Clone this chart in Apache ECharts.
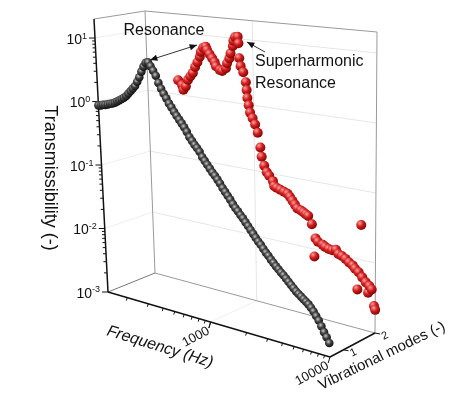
<!DOCTYPE html>
<html>
<head>
  <meta charset="UTF-8">
  <script src="https://cdn.jsdelivr.net/npm/echarts@6/dist/echarts.min.js"></script>
</head>
<style type="text/css">
  html,body {padding: 0; margin: 0; background: #fff}
  #chart {width: 474px; height: 404px}
</style>
<body>
<div id="chart"></div>
<script type="text/javascript">

// mode 1 (front plane)
var freq1 = [138,145,151,158,166,174,182,191,200,209,219,229,240,251,263,275,288,302,316,331,347,363,380,398,417,437,457,479,501,525,550,575,603,631,661,692,724,759,794,832,871,912,955,1000,
  1047,1096,1148,1202,1259,1318,1380,1445,1514,1585,1660,1738,1820,1905,1995,2089,2188,2291,2399,2512,2630,2754,2884,3020,3162,3311,3467,3631,3802,3981,4169,4365,4571,4786,5012,5248,5495,5754,6026,6310,6607,6918,7244,7586,7943,8318,8710,9120,9550,10000];
var trans1 = [0.871,0.891,0.933,0.955,1.0,1.047,1.084,1.148,1.23,1.318,1.413,1.514,1.66,1.862,2.089,2.344,2.63,3.162,3.80,4.79,5.89,6.92,7.24,6.46,5.62,4.79,3.80,3.16,2.69,2.34,2.0,1.78,1.55,1.38,1.23,1.10,0.977,0.851,0.724,0.646,0.575,0.525,0.468,0.398,
  0.355,0.316,0.282,0.251,0.229,0.204,0.182,0.158,0.141,0.126,0.112,0.0977,0.0871,0.0794,0.0708,0.0646,0.0575,0.0513,0.0457,0.0407,0.0363,0.0324,0.0295,0.0263,0.0234,0.0214,0.0191,0.0174,0.0158,0.0145,0.0132,0.0123,0.0112,0.0102,0.00933,0.00851,0.00776,0.00724,0.00676,0.00631,0.00589,0.0055,0.00501,0.00447,0.00389,0.00339,0.00282,0.00234,0.002,0.00166];

// mode 2 (back plane)
var freq2 = [245,263,269,282,295,309,324,339,355,372,380,398,417,427,447,468,490,501,537,562,603,617,646,661,692,700,724,759,768,776,794,832,871,881,891,912,933,977,1023,1072,1122,1148,1202,1259,1318,1413,1445,
  1514,1622,1738,1862,1950,2042,2138,2239,2399,2512,2630,2754,2951,3090,3162,3311,3631,3802,4074,4365,4677,4898,5248,5623,6026,6457,6761,7079,7244,7586,7762,8318,8710,8913,9333,9772,10000];
var trans2 = [1.70,1.45,1.23,1.41,1.82,2.09,2.40,3.02,3.63,4.47,5.37,6.31,6.61,5.89,5.13,4.47,3.89,3.39,3.02,2.95,3.31,3.98,4.79,5.75,7.59,9.12,10.5,10.7,8.51,5.01,3.80,3.09,2.19,1.66,1.26,0.977,0.759,0.631,0.513,0.389,0.234,0.170,0.126,0.102,0.0912,0.0776,0.0661,
  0.0631,0.0603,0.0575,0.055,0.0501,0.0447,0.0398,0.0355,0.0339,0.0324,0.0309,0.0295,0.0229,0.00776,0.0145,0.0132,0.0123,0.0117,0.0112,0.011,0.0115,0.0102,0.00977,0.00912,0.00832,0.00776,0.00708,0.00363,0.00646,0.0316,0.00562,0.0049,0.00355,0.00447,0.00407,0.0024,0.00214];

var yTicks = [0.001, 0.01, 0.1, 1, 10];
var yTickLabels = [['10', '-3'], ['10', '-2'], ['10', '-1'], ['10', '0'], ['10', '1']];
var xTicks = [1000, 10000];
var xTickLabels = ['1000', '10000'];
var modeLabels = ['1', '2'];

var XMIN = 138, XMAX = 10000, YMIN = 0.001, YMAX = 19.95;

// oblique planes: origin, x vector, y vector at left and right
var planes = [
  {o: [108, 292], x: [222, 65], yl: [-14, -273], yr: [-14, -273]},
  {o: [155, 273], x: [220, 60], yl: [-10, -262], yr: [2, -301]}
];
function project(u, v, k) {
  var p = planes[k];
  var yx = p.yl[0] + u * (p.yr[0] - p.yl[0]);
  var yy = p.yl[1] + u * (p.yr[1] - p.yl[1]);
  return [p.o[0] + u * p.x[0] + v * yx, p.o[1] + u * p.x[1] + v * yy];
}
function lerp(a, b, t) { return [a[0] + (b[0] - a[0]) * t, a[1] + (b[1] - a[1]) * t]; }
function uOf(f) { return (Math.log10(f) - Math.log10(XMIN)) / (Math.log10(XMAX) - Math.log10(XMIN)); }
function vOf(t) { return (Math.log10(t) - Math.log10(YMIN)) / (Math.log10(YMAX) - Math.log10(YMIN)); }

function sphere(k) {
  return function (params, api) {
    var cs = params.coordSys;
    var p = api.coord([api.value(0), api.value(1)]);
    var u = (p[0] - cs.x) / cs.width, v = 1 - (p[1] - cs.y) / cs.height;
    var q = project(u, v, k);
    var fill = k == 0
      ? new echarts.graphic.RadialGradient(0.4, 0.35, 0.75, [{offset: 0, color: '#c8c8c8'}, {offset: 0.4, color: '#444'}, {offset: 1, color: '#000'}])
      : new echarts.graphic.RadialGradient(0.35, 0.3, 0.75, [{offset: 0, color: '#ffa0a0'}, {offset: 0.45, color: '#d42020'}, {offset: 1, color: '#7a0000'}]);
    return {type: 'circle', shape: {cx: q[0], cy: q[1], r: k == 0 ? 4.3 : 5}, style: {fill: fill}};
  };
}

function line(a, b, color, w) {
  return {type: 'line', shape: {x1: a[0], y1: a[1], x2: b[0], y2: b[1]}, style: {stroke: color, lineWidth: w}, silent: true};
}
function text(x, y, str, opt) {
  return {type: 'text', x: x, y: y, rotation: opt.rot || 0,
    style: {text: str, fill: '#111', font: (opt.italic ? 'italic ' : '') + (opt.size || 14) + 'px Arial, "Liberation Sans"',
      align: opt.align || 'center', verticalAlign: 'middle', rich: opt.rich}};
}
function arrowHead(from, to) {
  var a = Math.atan2(to[1] - from[1], to[0] - from[0]), l = 8, s = 0.4;
  return {type: 'polygon', shape: {points: [to, [to[0] - l * Math.cos(a - s), to[1] - l * Math.sin(a - s)], [to[0] - l * Math.cos(a + s), to[1] - l * Math.sin(a + s)]]}, style: {fill: '#111'}};
}

var g = [];
// back wall grid
yTicks.slice(1).forEach(function (t) { g.push(line(project(0, vOf(t), 1), project(1, vOf(t), 1), '#e6e6e6', 1)); });
g.push(line(project(uOf(1000), 0, 1), project(uOf(1000), 1, 1), '#e6e6e6', 1));
g.push(line(project(uOf(1000), 0, 0), project(uOf(1000), 0, 1), '#eeeeee', 1));
yTicks.slice(1).forEach(function (t) { g.push(line(project(0, vOf(t), 0), project(0, vOf(t), 1), '#eeeeee', 1)); });
// box frame
var F00 = project(0, 0, 0), F01 = project(0, 1, 0), F10 = project(1, 0, 0);
var B00 = project(0, 0, 1), B01 = project(0, 1, 1), B10 = project(1, 0, 1), B11 = project(1, 1, 1);
g.push(line(F01, B01, '#999', 1), line(B00, B01, '#999', 1), line(B01, B11, '#999', 1),
  line(B10, B11, '#999', 1), line(B00, B10, '#999', 1), line(F00, B00, '#777', 1));
g.push(line(F00, F01, '#111', 1.5), line(F00, F10, '#111', 1.5), line(F10, B10, '#111', 1.5));

// y ticks
for (var e = -3; e <= 1; e++) {
  for (var m = 1; m <= 9; m++) {
    var t = m * Math.pow(10, e);
    if (t > YMAX) break;
    var a = project(0, vOf(t), 0);
    g.push(line(a, [a[0] - (m == 1 ? 6 : 3), a[1]], '#111', 1));
  }
}
yTicks.forEach(function (t, i) {
  var a = project(0, vOf(t), 0);
  g.push(text(a[0] - 8, a[1] + 2, '{b|' + yTickLabels[i][0] + '}{s|' + yTickLabels[i][1] + '}',
    {align: 'right', rich: {b: {fontSize: 14, fontFamily: 'Arial', fill: '#111'}, s: {fontSize: 9, fontFamily: 'Arial', fill: '#111', verticalAlign: 'top', padding: [0, 0, 8, 0]}}}));
});
// x ticks
for (var e2 = 2; e2 <= 3; e2++) {
  for (var m2 = 1; m2 <= 10; m2++) {
    var f = m2 * Math.pow(10, e2);
    if (f < XMIN || f > XMAX) continue;
    var b = project(uOf(f), 0, 0);
    var len = (m2 == 1 || m2 == 10) ? 6 : 3;
    g.push(line(b, [b[0] - len * 0.3, b[1] + len], '#111', 1));
  }
}
xTicks.forEach(function (f, i) {
  var b = project(uOf(f), 0, 0);
  g.push(text(b[0] - 2, b[1] + 8, xTickLabels[i], {align: 'right', size: 13, rot: 0.5}));
});
// mode ticks
[0.3, 1].forEach(function (t, i) {
  var c = lerp(F10, B10, t);
  g.push(line(c, [c[0] + 5, c[1] + 1], '#111', 1));
  g.push(text(c[0] + 10, c[1] + 3, modeLabels[i], {size: 11, rot: 0.45}));
});
// axis names
g.push(text(160, 347, 'Frequency (Hz)', {size: 16, italic: true, rot: -0.3}));
g.push(text(382, 356, 'Vibrational modes (-)', {size: 15, rot: 0.45}));
g.push(text(50, 178, 'Transmissibility (-)', {size: 18, rot: -Math.PI / 2}));
// annotations
g.push(text(164, 31, 'Resonance', {size: 16}));
g.push(line([150, 60], [197, 45], '#333', 1), arrowHead([197, 45], [150, 60]), arrowHead([150, 60], [197, 45]));
g.push(text(255, 62, 'Superharmonic', {size: 16, align: 'left'}));
g.push(text(255, 84, 'Resonance', {size: 16, align: 'left'}));
g.push(line([265, 52], [247, 42], '#333', 1), arrowHead([265, 52], [247, 42]));

var chart = echarts.init(document.getElementById('chart'));
chart.setOption({
  animation: false,
  grid: {left: 0, right: 0, top: 0, bottom: 0},
  xAxis: {type: 'log', min: XMIN, max: XMAX, show: false},
  yAxis: {type: 'log', min: YMIN, max: YMAX, show: false},
  graphic: {elements: g},
  series: [
    {type: 'custom', renderItem: sphere(1), data: freq2.map(function (f, i) { return [f, trans2[i]]; }), z: 3, clip: false},
    {type: 'custom', renderItem: sphere(0), data: freq1.map(function (f, i) { return [f, trans1[i]]; }), z: 4, clip: false}
  ]
});
</script>
</body>
</html>
